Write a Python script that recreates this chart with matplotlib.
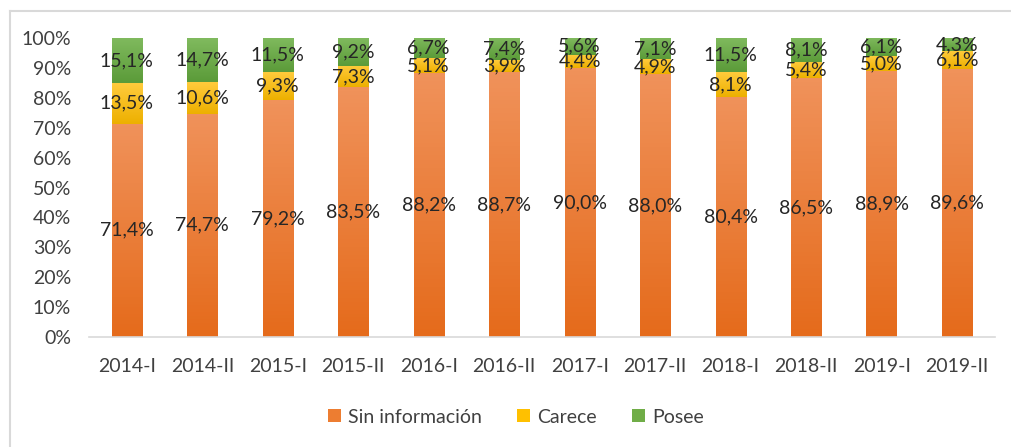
import numpy as np
import matplotlib.pyplot as plt
from matplotlib.colors import LinearSegmentedColormap
from matplotlib.lines import Line2D
from matplotlib.patches import Patch

periods = ["2014-I", "2014-II", "2015-I", "2015-II", "2016-I", "2016-II",
           "2017-I", "2017-II", "2018-I", "2018-II", "2019-I", "2019-II"]
sin_info = [71.4, 74.7, 79.2, 83.5, 88.2, 88.7, 90.0, 88.0, 80.4, 86.5, 88.9, 89.6]
carece = [13.5, 10.6, 9.3, 7.3, 5.1, 3.9, 4.4, 4.9, 8.1, 5.4, 5.0, 6.1]
posee = [15.1, 14.7, 11.5, 9.2, 6.7, 7.4, 5.6, 7.1, 11.5, 8.1, 6.1, 4.3]

series = [("Sin información", sin_info, "#F0925A", "#E56B1C", "#ED7D31"),
          ("Carece", carece, "#FFCB3C", "#EDB000", "#FFC000"),
          ("Posee", posee, "#80BA5E", "#5B9B39", "#70AD47")]

plt.rcParams['font.family'] = ['Lato', 'DejaVu Sans']

fig = plt.figure(figsize=(10.12, 4.47), dpi=100)
ax = fig.add_axes([0.088, 0.246, 0.895, 0.669])

x = np.arange(len(periods))
width = 0.4
grad = np.linspace(1, 0, 64).reshape(-1, 1)


def gradient_bar(ax, xc, bottom, height, top_col, bot_col):
    rect = ax.bar(xc, height, width, bottom=bottom, color="none", zorder=2)[0]
    cmap = LinearSegmentedColormap.from_list("g", [bot_col, top_col])
    im = ax.imshow(grad, cmap=cmap, aspect="auto", zorder=2,
                   extent=(xc - width / 2, xc + width / 2, bottom, bottom + height))
    im.set_clip_path(rect)


bottoms = np.zeros(len(periods))
for name, vals, c_top, c_bot, c_leg in series:
    for i, v in enumerate(vals):
        gradient_bar(ax, x[i], bottoms[i], v, c_top, c_bot)
        ax.text(x[i], bottoms[i] + v / 2, f"{v:.1f}%".replace(".", ","),
                ha="center", va="center", fontsize=14, color="#262626", zorder=3)
    bottoms += np.array(vals)

ax.set_xlim(-0.5, len(periods) - 0.5)
ax.set_ylim(0, 100)
ax.set_yticks(np.arange(0, 101, 10))
ax.set_yticklabels([f"{t}%" for t in range(0, 101, 10)])
ax.set_xticks(x)
ax.set_xticklabels(periods)
ax.tick_params(length=0, labelsize=14, colors="#404040")
ax.tick_params(axis="x", pad=15)
ax.tick_params(axis="y", pad=13)
for s in ["top", "right", "left"]:
    ax.spines[s].set_visible(False)
ax.spines["bottom"].set_color("#D9D9D9")
ax.spines["bottom"].set_linewidth(1.2)

handles = [Patch(facecolor=c, label=n) for n, _, _, _, c in series]
fig.legend(handles=handles, loc="center", bbox_to_anchor=(0.51, 0.067), ncol=3,
           frameon=False, fontsize=14, handlelength=0.65, handleheight=0.65,
           columnspacing=1.8, handletextpad=0.4, labelcolor="#404040")

# chart frame
fig.add_artist(Line2D([10 / 1012, 10 / 1012], [0, 1 - 11 / 447], color="#D9D9D9", lw=1.5))
fig.add_artist(Line2D([10 / 1012, 1], [1 - 11 / 447, 1 - 11 / 447], color="#D9D9D9", lw=1.5))

fig.savefig("out.png", dpi=100)
